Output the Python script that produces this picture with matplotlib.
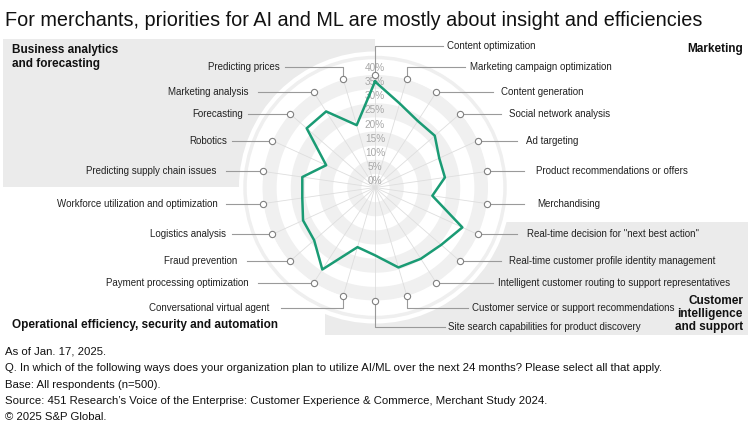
import numpy as np
import matplotlib
matplotlib.use('Agg')
import matplotlib.pyplot as plt
from matplotlib.patches import Rectangle, Circle

plt.rcParams['font.family'] = ['Liberation Sans', 'DejaVu Sans']

# data, clockwise from the top
categories = [
    'Content optimization', 'Marketing campaign optimization', 'Content generation',
    'Social network analysis', 'Ad targeting', 'Product recommendations or offers',
    'Merchandising', 'Real-time decision for "next best action"',
    'Real-time customer profile identity management',
    'Intelligent customer routing to support representatives',
    'Customer service or support recommendations',
    'Site search capabilities for product discovery',
    'Conversational virtual agent', 'Payment processing optimization', 'Fraud prevention',
    'Logistics analysis', 'Workforce utilization and optimization',
    'Predicting supply chain issues', 'Robotics', 'Forecasting', 'Marketing analysis',
    'Predicting prices',
]
values = [37.5, 31, 28, 28, 25, 25, 20.5, 34, 31, 30, 29.5, 24,
          22, 34.5, 28.5, 28, 26, 26, 19, 32, 32, 23]
r_ticks = [0, 5, 10, 15, 20, 25, 30, 35, 40]
r_tick_labels = [f'{t}%' for t in r_ticks]

title = 'For merchants, priorities for AI and ML are mostly about insight and efficiencies'
notes = [
    'As of Jan. 17, 2025.',
    'Q. In which of the following ways does your organization plan to utilize AI/ML over the next 24 months? Please select all that apply.',
    'Base: All respondents (n=500).',
    'Source: 451 Research\u2019s Voice of the Enterprise: Customer Experience & Commerce, Merchant Study 2024.',
    '\u00a9 2025 S&P Global.',
]

# label layout: (text x, leader end x, elbow y or None)
label_layout = [
    (447, 443, 46), (470, 465, 67), (501, 493, None), (509, 501, None),
    (526, 517, None), (536, 524, None), (537, 524, None), (527, 517, None),
    (509, 501, None), (498, 493, None), (472, 468, 308), (448, 445, 327),
    (269, 281, 308), (249, 258, None), (237, 247, None), (226, 232, None),
    (218, 226, None), (216, 226, None), (227, 232, None), (243, 248, None),
    (249, 258, None), (280, 285, 67),
]

W, H = 755, 432
cx, cy, R = 375, 187.5, 113
green = '#1a9b74'
band = '#f0f0f0'

fig = plt.figure(figsize=(W / 100, H / 100), dpi=100)
bg = fig.add_axes([0, 0, 1, 1])
bg.set_xlim(0, W)
bg.set_ylim(H, 0)
bg.axis('off')

bg.add_patch(Rectangle((3, 39), 372, 148, fc='#ebebeb', ec='none', zorder=0))
bg.add_patch(Rectangle((325, 222), 423, 113, fc='#ebebeb', ec='none', zorder=0))
bg.add_patch(Circle((cx, cy), 136, fc='white', ec='none', zorder=1))
bg.add_patch(Circle((cx, cy), 130, fc='none', ec='#efefef', lw=2.5, zorder=2))

bg.text(5, 20, title, fontsize=14.3, color='#111111', va='center', ha='left')
bg.text(12, 57, 'Business analytics\nand forecasting', fontsize=8.5, fontweight='bold',
        color='#111111', va='center', ha='left', linespacing=1.15)
bg.text(743, 49, 'Marketing', fontsize=8.5, fontweight='bold', color='#111111',
        va='center', ha='right')
bg.text(12, 325, 'Operational efficiency, security and automation', fontsize=8.5,
        fontweight='bold', color='#111111', va='center', ha='left')
bg.text(743, 314, 'Customer\nintelligence\nand support', fontsize=8.5, fontweight='bold',
        color='#111111', va='center', ha='right', linespacing=1.15)
for k, line in enumerate(notes):
    bg.text(5, 352 + 16.3 * k, line, fontsize=8.2, color='#111111', va='center', ha='left')

# radar
pax = fig.add_axes([(cx - R) / W, (H - cy - R) / H, 2 * R / W, 2 * R / H], projection='polar')
pax.set_theta_zero_location('N')
pax.set_theta_direction(-1)
pax.set_ylim(0, 40)
pax.set_xticks([])
pax.set_yticks([])
pax.grid(False)
pax.spines['polar'].set_visible(False)
pax.set_facecolor('white')

n = len(categories)
theta = np.arange(n) * 2 * np.pi / n
full = np.linspace(0, 2 * np.pi, 361)
for r0 in [5, 15, 25, 35]:
    pax.fill_between(full, r0, r0 + 5, color=band, lw=0, zorder=1)
for t in theta:
    pax.plot([t, t], [0, 40], color='#dedede', lw=0.6, zorder=2)

for t, lab in zip(r_ticks, r_tick_labels):
    pax.annotate(lab, (0, t), xytext=(0, 6.5), textcoords='offset pixels',
                 ha='center', va='center', fontsize=7.2, color='#a8a8a8', zorder=3)

tt = np.append(theta, theta[0])
vv = np.append(values, values[0])
pax.plot(tt, vv, color=green, lw=1.8, zorder=4)
pax.plot(theta, [40] * n, 'o', ms=4.5, mfc='white', mec='#808080', mew=0.8,
         clip_on=False, zorder=5)

# leader lines and labels in pixel space
to_bg = bg.transData.inverted()
for t, lab, (tx, ex, ey) in zip(theta, categories, label_layout):
    mx, my = to_bg.transform(pax.transData.transform((t, 40)))
    right = tx > cx
    if ey is None:
        xs, ys = [mx + (3 if right else -3), ex], [my, my]
        ty = my
    else:
        xs = [mx, mx, ex]
        ys = [my + (3 if ey > my else -3), ey, ey]
        ty = ey
    bg.plot(xs, ys, color='#9a9a9a', lw=0.8, zorder=3)
    bg.text(tx, ty, lab, fontsize=7, color='#222222', va='center',
            ha='left' if right else 'right', zorder=4)

fig.savefig('out.png', dpi=100)
